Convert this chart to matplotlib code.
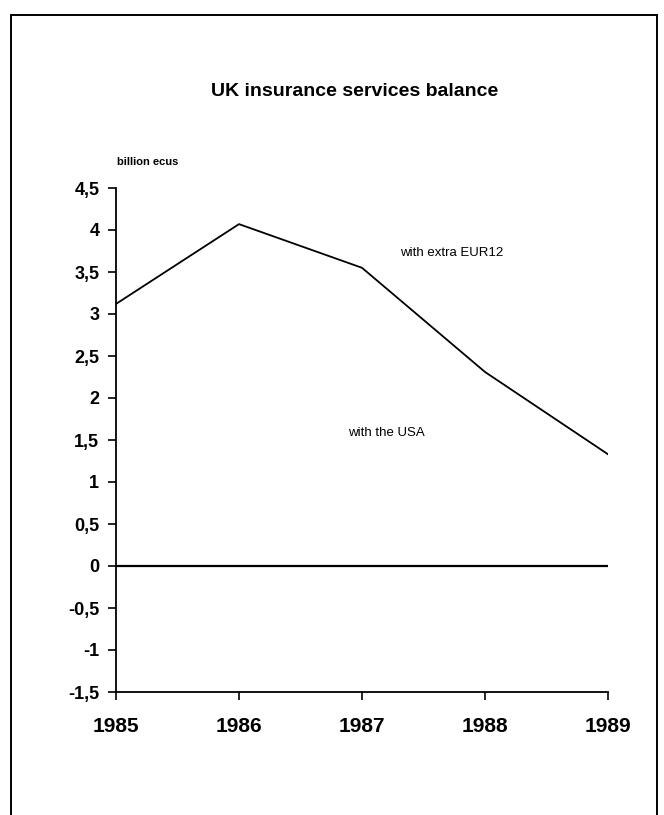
import matplotlib
matplotlib.use("Agg")
import matplotlib.pyplot as plt
from matplotlib import font_manager
from matplotlib.patches import Rectangle
from matplotlib.ticker import FuncFormatter

# ---------------------------------------------------------------- data
years = [1985, 1986, 1987, 1988, 1989]
extra_eur12 = [3.12, 4.07, 3.55, 2.31, 1.33]
with_usa = [0.0, 0.0, 0.0, 0.0, 0.0]
y_ticks = [4.5, 4, 3.5, 3, 2.5, 2, 1.5, 1, 0.5, 0, -0.5, -1, -1.5]

# ---------------------------------------------------------------- font
names = {f.name for f in font_manager.fontManager.ttflist}
FONT = "Liberation Sans Narrow" if "Liberation Sans Narrow" in names else "Liberation Sans"
plt.rcParams["font.family"] = [FONT, "DejaVu Sans"]

W, H = 664, 815
fig = plt.figure(figsize=(W / 100, H / 100), dpi=100)

# page frame (bottom edge runs off the sheet)
fig.patches.append(Rectangle((11 / W, -0.05), (657 - 11) / W, 1.05 - 15 / H,
                             transform=fig.transFigure, fill=False,
                             edgecolor="black", linewidth=1.4))

left, right, top, bottom = 116, 608, 188, 692
ax = fig.add_axes([left / W, 1 - bottom / H, (right - left) / W, (bottom - top) / H])

ax.plot(years, extra_eur12, color="black", linewidth=1.3)
ax.plot(years, with_usa, color="black", linewidth=1.6)

ax.set_xlim(1985, 1989)
ax.set_ylim(-1.5, 4.5)
ax.set_xticks(years)
ax.set_yticks(y_ticks)
ax.yaxis.set_major_formatter(FuncFormatter(lambda v, p: f"{v:g}".replace(".", ",")))

for s in ("top", "right"):
    ax.spines[s].set_visible(False)
for s in ("left", "bottom"):
    ax.spines[s].set_linewidth(1.3)
ax.tick_params(axis="y", direction="out", length=6, width=1.2, labelsize=13, pad=6)
ax.tick_params(axis="x", direction="out", length=6, width=1.2, labelsize=15, pad=12)
for lab in ax.get_xticklabels() + ax.get_yticklabels():
    lab.set_fontweight("bold")

# ---------------------------------------------------------------- texts
fig.text(355 / W, 1 - 91 / H, "UK insurance services balance",
         ha="center", va="center", fontsize=14, fontweight="bold")
fig.text(117 / W, 1 - 162 / H, "billion ecus", ha="left", va="center",
         fontsize=8, fontweight="bold")
ax.text(1987.73, 3.73, "with extra EUR12", ha="center", va="center", fontsize=9.5)
ax.text(1987.2, 1.58, "with the USA", ha="center", va="center", fontsize=9.5)

fig.savefig("out.png", dpi=100)
